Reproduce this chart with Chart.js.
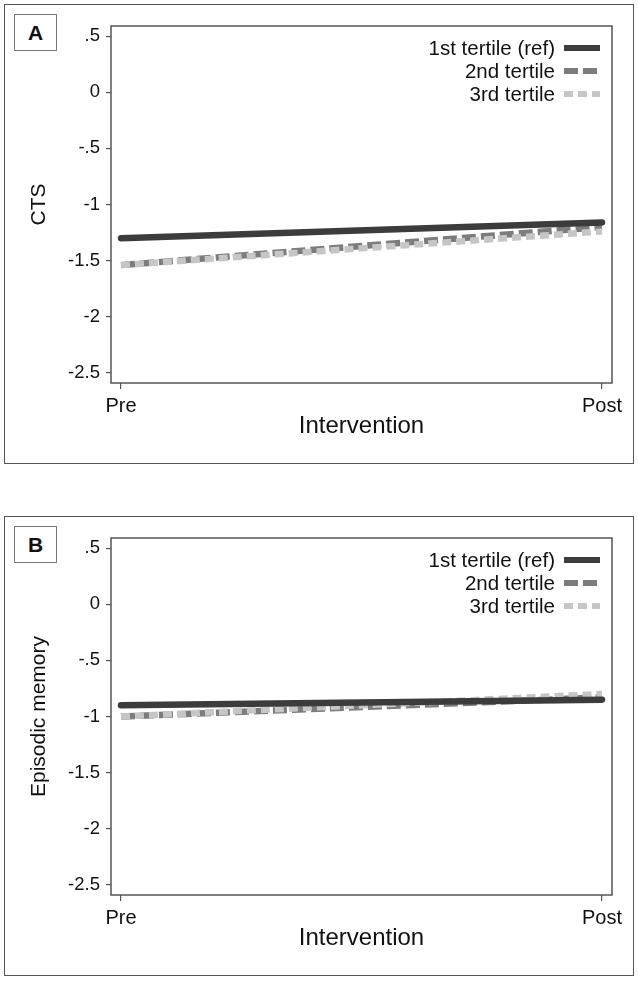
<!DOCTYPE html>
<html>
<head>
<meta charset="utf-8">
<script src="https://cdn.jsdelivr.net/npm/chart.js@4.4.1/dist/chart.umd.min.js"></script>
<style>
  html, body { margin: 0; padding: 0; background: #fff; width: 638px; height: 983px; overflow: hidden; font-family: "Liberation Sans", Arial, sans-serif; }
  .panel { position: absolute; left: 4px; width: 628px; height: 458px; border: 1.5px solid #555; box-sizing: content-box; }
  .tag { position: absolute; left: 14px; width: 41px; height: 35px; border: 1px solid #777; font-weight: bold; font-size: 21px; line-height: 35px; text-align: center; color: #111; background: #fff; }
  canvas { position: absolute; left: 0; }
</style>
</head>
<body>
<div class="panel" style="top:4px"></div>
<div class="panel" style="top:516px"></div>
<div class="tag" style="top:14px">A</div>
<div class="tag" style="top:526px">B</div>
<canvas id="chartA" width="638" height="470" style="top:0px;width:638px;height:470px"></canvas>
<canvas id="chartB" width="638" height="470" style="top:512px;width:638px;height:470px"></canvas>
<script>
// ---- Data ----
const categories = ['Pre', 'Post'];
const xPositions = [0, 1];
const seriesLabels = ['1st tertile (ref)', '2nd tertile', '3rd tertile'];

const ctsTertile1 = [-1.30, -1.16];
const ctsTertile2 = [-1.54, -1.20];
const ctsTertile3 = [-1.54, -1.24];

const memTertile1 = [-0.90, -0.85];
const memTertile2 = [-1.00, -0.83];
const memTertile3 = [-1.00, -0.80];

const yTicks = [0.5, 0, -0.5, -1, -1.5, -2, -2.5];
const yTickLabels = ['.5', '0', '-.5', '-1', '-1.5', '-2', '-2.5'];

// ---- Styles ----
const seriesColors = ['#3c3c3c', '#7c7c7c', '#c6c6c6'];
const seriesDash = [[], [14, 5], [9, 5]];
const seriesOrder = [0, 2, 1];
const axisColor = '#555';
const FONT = '"Liberation Sans", Arial, sans-serif';

function toPoints(vals) {
  return vals.map((v, i) => ({ x: xPositions[i], y: v }));
}

const framePlugin = {
  id: 'frame',
  afterDatasetsDraw(chart) {
    const a = chart.chartArea;
    const ctx = chart.ctx;
    ctx.save();
    ctx.strokeStyle = axisColor;
    ctx.lineWidth = 1.5;
    ctx.strokeRect(a.left, a.top, a.right - a.left, a.bottom - a.top);
    // legend inside plot, top-right
    const rows = [22, 45, 68];
    ctx.font = '20.5px ' + FONT;
    ctx.textAlign = 'right';
    ctx.textBaseline = 'middle';
    chart.data.datasets.forEach((ds, i) => {
      const y = a.top + rows[i];
      ctx.fillStyle = '#111';
      ctx.fillText(ds.label, a.right - 57, y + 1);
      ctx.beginPath();
      ctx.setLineDash(ds.borderDash || []);
      ctx.lineCap = 'butt';
      ctx.strokeStyle = ds.borderColor;
      ctx.lineWidth = 6;
      ctx.moveTo(a.right - 48, y);
      ctx.lineTo(a.right - 12, y);
      ctx.stroke();
    });
    ctx.restore();
  }
};

function makeChart(id, yTitle, s1, s2, s3) {
  const vals = [s1, s2, s3];
  return new Chart(document.getElementById(id), {
    type: 'line',
    data: {
      datasets: vals.map((v, i) => ({
        label: seriesLabels[i],
        data: toPoints(v),
        borderColor: seriesColors[i],
        backgroundColor: seriesColors[i],
        borderWidth: 6.5,
        borderDash: seriesDash[i],
        borderCapStyle: i === 0 ? 'round' : 'butt',
        pointRadius: 0,
        pointHoverRadius: 0,
        fill: false,
        tension: 0,
        order: seriesOrder[i]
      }))
    },
    options: {
      responsive: false,
      animation: false,
      events: [],
      layout: { padding: { left: 0, right: 26, top: 26, bottom: 0 } },
      plugins: { legend: { display: false }, tooltip: { enabled: false } },
      scales: {
        x: {
          type: 'linear',
          min: -0.0208,
          max: 1.0208,
          afterBuildTicks: s => { s.ticks = xPositions.map(v => ({ value: v })); },
          afterFit: s => { s.height = 87; },
          ticks: {
            callback: (v) => categories[xPositions.indexOf(v)],
            font: { family: FONT, size: 20 },
            color: '#111',
            padding: 5,
            maxRotation: 0,
            autoSkip: false
          },
          grid: { display: true, drawOnChartArea: false, drawTicks: true, tickLength: 6, color: axisColor, lineWidth: 1.2 },
          border: { display: false },
          title: {
            display: true,
            text: 'Intervention',
            font: { family: FONT, size: 24 },
            color: '#111',
            padding: { top: 0, bottom: 29 }
          }
        },
        y: {
          type: 'linear',
          min: -2.59,
          max: 0.59,
          afterBuildTicks: s => { s.ticks = yTicks.map(v => ({ value: v })); },
          afterFit: s => { s.width = 111; },
          ticks: {
            callback: (v) => yTickLabels[yTicks.indexOf(v)],
            font: { family: FONT, size: 18.5 },
            color: '#111',
            padding: 6,
            autoSkip: false
          },
          grid: { display: true, drawOnChartArea: false, drawTicks: true, tickLength: 5, color: axisColor, lineWidth: 1.2 },
          border: { display: false },
          title: {
            display: true,
            text: yTitle,
            font: { family: FONT, size: 21 },
            color: '#111',
            padding: { top: 27, bottom: 0 }
          }
        }
      }
    },
    plugins: [framePlugin]
  });
}

makeChart('chartA', 'CTS', ctsTertile1, ctsTertile2, ctsTertile3);
makeChart('chartB', 'Episodic memory', memTertile1, memTertile2, memTertile3);
</script>
</body>
</html>
